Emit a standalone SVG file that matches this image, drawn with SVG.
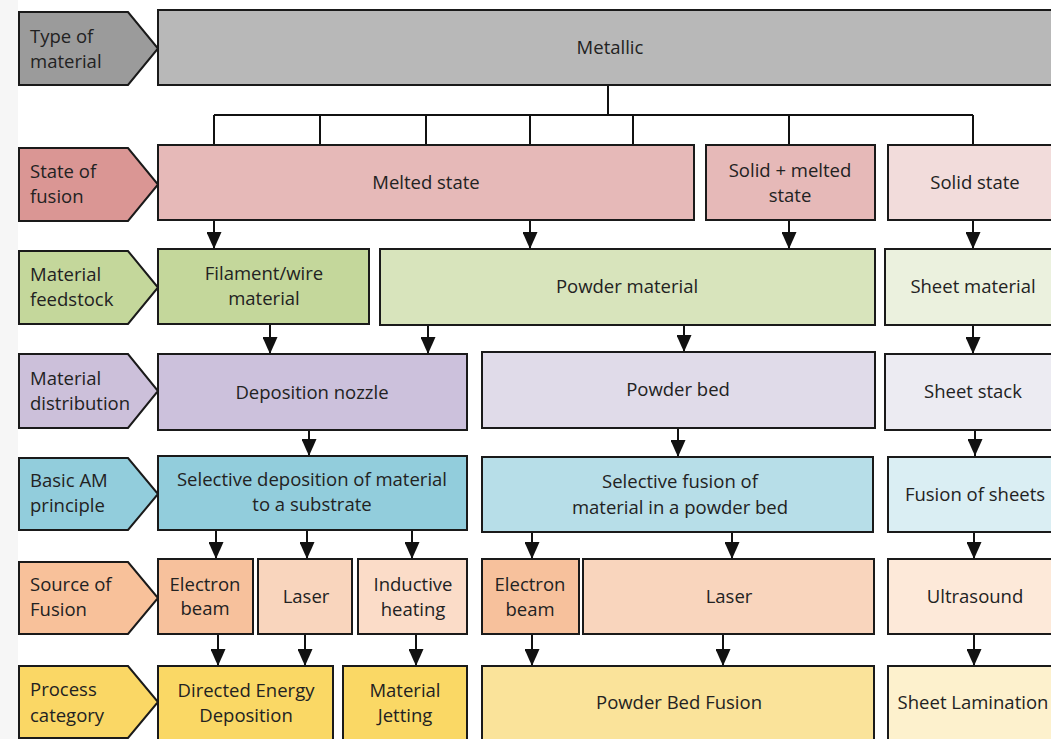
<svg xmlns="http://www.w3.org/2000/svg" width="1051" height="739" viewBox="0 0 1051 739">
<defs>
<marker id="ah" markerUnits="userSpaceOnUse" markerWidth="18" markerHeight="15" refX="17" refY="7.5" orient="auto">
<path d="M0,0 L17,7.5 L0,15 Z" fill="#111"/>
</marker>
<style>
.b{stroke:#1a1a1a;stroke-width:2}
.t{font-family:"Open Sans","Liberation Sans",sans-serif;font-size:18.5px;fill:#222}
.c{text-anchor:middle}
.w{stroke:#111;stroke-width:2;fill:none}
.a{stroke:#111;stroke-width:2;fill:none;marker-end:url(#ah)}
</style>
</defs>
<rect width="1051" height="739" fill="#fff"/>
<rect width="18" height="739" fill="#f6f6f6"/>

<g id="connectors">
<path class="w" d="M608,85 V115 M214,115 H973 M214,115 V145 M320,115 V145 M426,115 V145 M530,115 V145 M633,115 V145 M789,115 V145 M973,115 V145"/>
<path class="a" d="M214,221 V249"/><path class="a" d="M530,221 V249"/><path class="a" d="M789,221 V249"/><path class="a" d="M973,221 V249"/>
<path class="a" d="M270,325 V354"/><path class="a" d="M428,326 V354"/><path class="a" d="M684,326 V352"/><path class="a" d="M973,326 V354"/>
<path class="a" d="M309,431 V456"/><path class="a" d="M678,429 V457"/><path class="a" d="M975,431 V456"/>
<path class="a" d="M216,531 V559"/><path class="a" d="M307,531 V559"/><path class="a" d="M412,531 V559"/><path class="a" d="M532,533 V559"/><path class="a" d="M732,533 V559"/><path class="a" d="M974,533 V559"/>
<path class="a" d="M218,635 V666"/><path class="a" d="M305,635 V666"/><path class="a" d="M416,635 V666"/><path class="a" d="M532,635 V666"/><path class="a" d="M723,635 V666"/><path class="a" d="M974,635 V666"/>
</g>

<g id="label-type">
<path class="b" d="M19,12 H128 L158,48.5 L128,85 H19 Z" fill="#9b9b9b"/>
<text class="t" x="30" y="43">Type of</text><text class="t" x="30" y="68">material</text>
</g>
<g id="metallic">
<rect class="b" x="158" y="10" width="900" height="75" fill="#b8b8b8"/>
<text class="t c" x="610" y="54">Metallic</text>
</g>

<g id="label-state">
<path class="b" d="M19,148 H128 L158,184.5 L128,221 H19 Z" fill="#da9694"/>
<text class="t" x="30" y="178">State of</text><text class="t" x="30" y="203">fusion</text>
</g>
<g id="melted"><rect class="b" x="158" y="145" width="536" height="75" fill="#e6b9b8"/><text class="t c" x="426" y="189">Melted state</text></g>
<g id="solidmelted"><rect class="b" x="706" y="145" width="169" height="75" fill="#e6b9b8"/><text class="t c" x="790" y="177">Solid + melted</text><text class="t c" x="790" y="202">state</text></g>
<g id="solid"><rect class="b" x="888" y="145" width="180" height="75" fill="#f2dcdb"/><text class="t c" x="975" y="189">Solid state</text></g>

<g id="label-feedstock">
<path class="b" d="M19,251 H128 L158,287.5 L128,324 H19 Z" fill="#c4d79b"/>
<text class="t" x="30" y="281">Material</text><text class="t" x="30" y="306">feedstock</text>
</g>
<g id="filament"><rect class="b" x="158" y="249" width="211" height="75" fill="#c4d79b"/><text class="t c" x="264" y="280">Filament/wire</text><text class="t c" x="264" y="305">material</text></g>
<g id="powder"><rect class="b" x="380" y="249" width="495" height="76" fill="#d8e4bc"/><text class="t c" x="627" y="293">Powder material</text></g>
<g id="sheet"><rect class="b" x="885" y="249" width="180" height="76" fill="#ebf1de"/><text class="t c" x="973" y="293">Sheet material</text></g>

<g id="label-distribution">
<path class="b" d="M19,354 H128 L158,391 L128,428 H19 Z" fill="#ccc0da"/>
<text class="t" x="30" y="385">Material</text><text class="t" x="30" y="410">distribution</text>
</g>
<g id="nozzle"><rect class="b" x="158" y="354" width="309" height="76" fill="#ccc1dc"/><text class="t c" x="312" y="399">Deposition nozzle</text></g>
<g id="powderbed"><rect class="b" x="482" y="352" width="393" height="76" fill="#e0dbe9"/><text class="t c" x="678" y="396">Powder bed</text></g>
<g id="sheetstack"><rect class="b" x="885" y="354" width="180" height="76" fill="#ecebf2"/><text class="t c" x="973" y="398">Sheet stack</text></g>

<g id="label-principle">
<path class="b" d="M19,458 H128 L158,494 L128,530 H19 Z" fill="#92cddc"/>
<text class="t" x="30" y="487">Basic AM</text><text class="t" x="30" y="512">principle</text>
</g>
<g id="seldep"><rect class="b" x="158" y="456" width="309" height="74" fill="#92cddc"/><text class="t c" x="312" y="486">Selective deposition of material</text><text class="t c" x="312" y="511">to a substrate</text></g>
<g id="selfus"><rect class="b" x="482" y="457" width="391" height="75" fill="#b7dee8"/><text class="t c" x="680" y="488">Selective fusion of</text><text class="t c" x="680" y="514">material in a powder bed</text></g>
<g id="fusionsheets"><rect class="b" x="888" y="457" width="180" height="75" fill="#daeef3"/><text class="t c" x="975" y="501">Fusion of sheets</text></g>

<g id="label-source">
<path class="b" d="M19,562 H128 L158,598 L128,634 H19 Z" fill="#f8c19a"/>
<text class="t" x="30" y="591">Source of</text><text class="t" x="30" y="616">Fusion</text>
</g>
<g id="eb1"><rect class="b" x="158" y="559" width="95" height="75" fill="#f7c19c"/><text class="t c" x="205" y="591">Electron</text><text class="t c" x="205" y="615">beam</text></g>
<g id="laser1"><rect class="b" x="258" y="559" width="94" height="75" fill="#f9d5bd"/><text class="t c" x="306" y="603">Laser</text></g>
<g id="inductive"><rect class="b" x="358" y="559" width="109" height="75" fill="#fbdcc8"/><text class="t c" x="413" y="591">Inductive</text><text class="t c" x="413" y="616">heating</text></g>
<g id="eb2"><rect class="b" x="482" y="559" width="97" height="75" fill="#f7c19c"/><text class="t c" x="530" y="591">Electron</text><text class="t c" x="530" y="616">beam</text></g>
<g id="laser2"><rect class="b" x="583" y="559" width="291" height="75" fill="#f9d5bd"/><text class="t c" x="729" y="603">Laser</text></g>
<g id="ultrasound"><rect class="b" x="888" y="559" width="180" height="75" fill="#fde9d9"/><text class="t c" x="975" y="603">Ultrasound</text></g>

<g id="label-process">
<path class="b" d="M19,666 H128 L158,702 L128,738 H19 Z" fill="#fad765"/>
<text class="t" x="30" y="696">Process</text><text class="t" x="30" y="722">category</text>
</g>
<g id="ded"><rect class="b" x="158" y="666" width="175" height="80" fill="#fad865"/><text class="t c" x="246" y="697">Directed Energy</text><text class="t c" x="246" y="722">Deposition</text></g>
<g id="mj"><rect class="b" x="343" y="666" width="124" height="80" fill="#fad865"/><text class="t c" x="405" y="697">Material</text><text class="t c" x="405" y="722">Jetting</text></g>
<g id="pbf"><rect class="b" x="482" y="666" width="392" height="80" fill="#fae39a"/><text class="t c" x="679" y="709">Powder Bed Fusion</text></g>
<g id="sl"><rect class="b" x="888" y="666" width="180" height="80" fill="#fdf1cd"/><text class="t c" x="973" y="709">Sheet Lamination</text></g>
</svg>
